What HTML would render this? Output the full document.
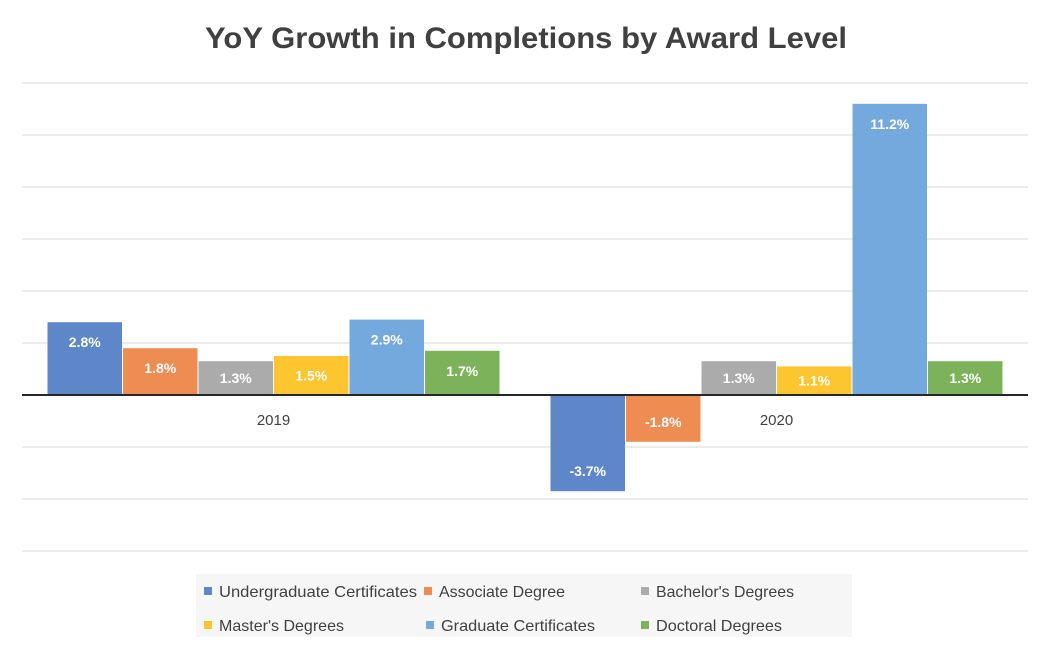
<!DOCTYPE html>
<html><head><meta charset="utf-8"><style>
body{margin:0;background:#fff;font-family:"Liberation Sans",sans-serif}
svg{display:block}
</style></head><body>
<svg id="c" width="1052" height="650">
<text x="205" y="48" textLength="642" lengthAdjust="spacingAndGlyphs" font-size="30" font-weight="bold" fill="#404040">YoY Growth in Completions by Award Level</text>
<g id="grid"></g><g id="bars"></g><g id="labels"></g>
<rect x="196" y="574" width="656" height="63" fill="#f6f6f6"/>
<g id="legend"></g>
</svg>
<script>
const categories=["2019","2020"];
const seriesNames=["Undergraduate Certificates","Associate Degree","Bachelor's Degrees","Master's Degrees","Graduate Certificates","Doctoral Degrees"];
const undergradCert=[2.8,-3.7];
const associate=[1.8,-1.8];
const bachelors=[1.3,1.3];
const masters=[1.5,1.1];
const gradCert=[2.9,11.2];
const doctoral=[1.7,1.3];
const gridTicks=[-6,-4,-2,0,2,4,6,8,10,12];
const series=[undergradCert,associate,bachelors,masters,gradCert,doctoral];
const colors=["#5e87ca","#ef8c52","#ababab","#fdc631","#73a9dc","#7cb35a"];
const legendTextW=[198,126,138,125,154,126];
const legendX=[204,424,641,204,426,641];
const NS="http://www.w3.org/2000/svg";
const left=22,right=1028,y0=395,ppu=26;
const y=v=>y0-v*ppu;
const catW=(right-left)/categories.length,pad=25,bw=(catW-2*pad)/series.length;
function mk(t,a,p){const e=document.createElementNS(NS,t);for(const k in a)e.setAttribute(k,a[k]);p.appendChild(e);return e;}
const G=document.getElementById('grid'),B=document.getElementById('bars'),L=document.getElementById('labels'),LG=document.getElementById('legend');
gridTicks.forEach(t=>{if(t===0)return;const l=mk('line',{x1:left,x2:right,y1:y(t),y2:y(t),stroke:'#d9d9d9','stroke-width':1},G);

});
categories.forEach((c,ci)=>{
 series.forEach((s,si)=>{const v=s[ci];const x=left+ci*catW+pad+si*bw;const top=Math.min(y(v),y0),h=Math.abs(y(v)-y0);
  const r=mk('rect',{x:x+0.5,y:top,width:bw-1,height:h,fill:colors[si]},B);
  
  
  let cy;const mid=top+h/2;
  if(v>=0)cy=Math.min(top+20,mid);else cy=Math.max(top+h-20,mid);
  const t=mk('text',{x:x+bw/2,y:cy+5,'text-anchor':'middle','font-size':14,'font-weight':'bold',fill:'#fff'},L);
  t.textContent=v.toFixed(1)+'%';
  
  });
 const ct=mk('text',{x:left+ci*catW+catW/2,y:425,'text-anchor':'middle','font-size':15,fill:'#404040'},L);
 ct.textContent=c;
 
 
});
const ax=mk('line',{x1:left,x2:right,y1:y0,y2:y0,stroke:'#262626','stroke-width':2},L);


seriesNames.forEach((n,i)=>{const row=Math.floor(i/3);const x=legendX[i],yy=591+row*34;
 const g=mk('g',{},LG);
 
 
 mk('rect',{x:x,y:yy-4,width:8,height:8,fill:colors[i]},g);
 const t=mk('text',{x:x+15,y:yy+6,'font-size':16,fill:'#404040',textLength:legendTextW[i],lengthAdjust:'spacingAndGlyphs'},g);t.textContent=n;});
</script>
</body></html>
